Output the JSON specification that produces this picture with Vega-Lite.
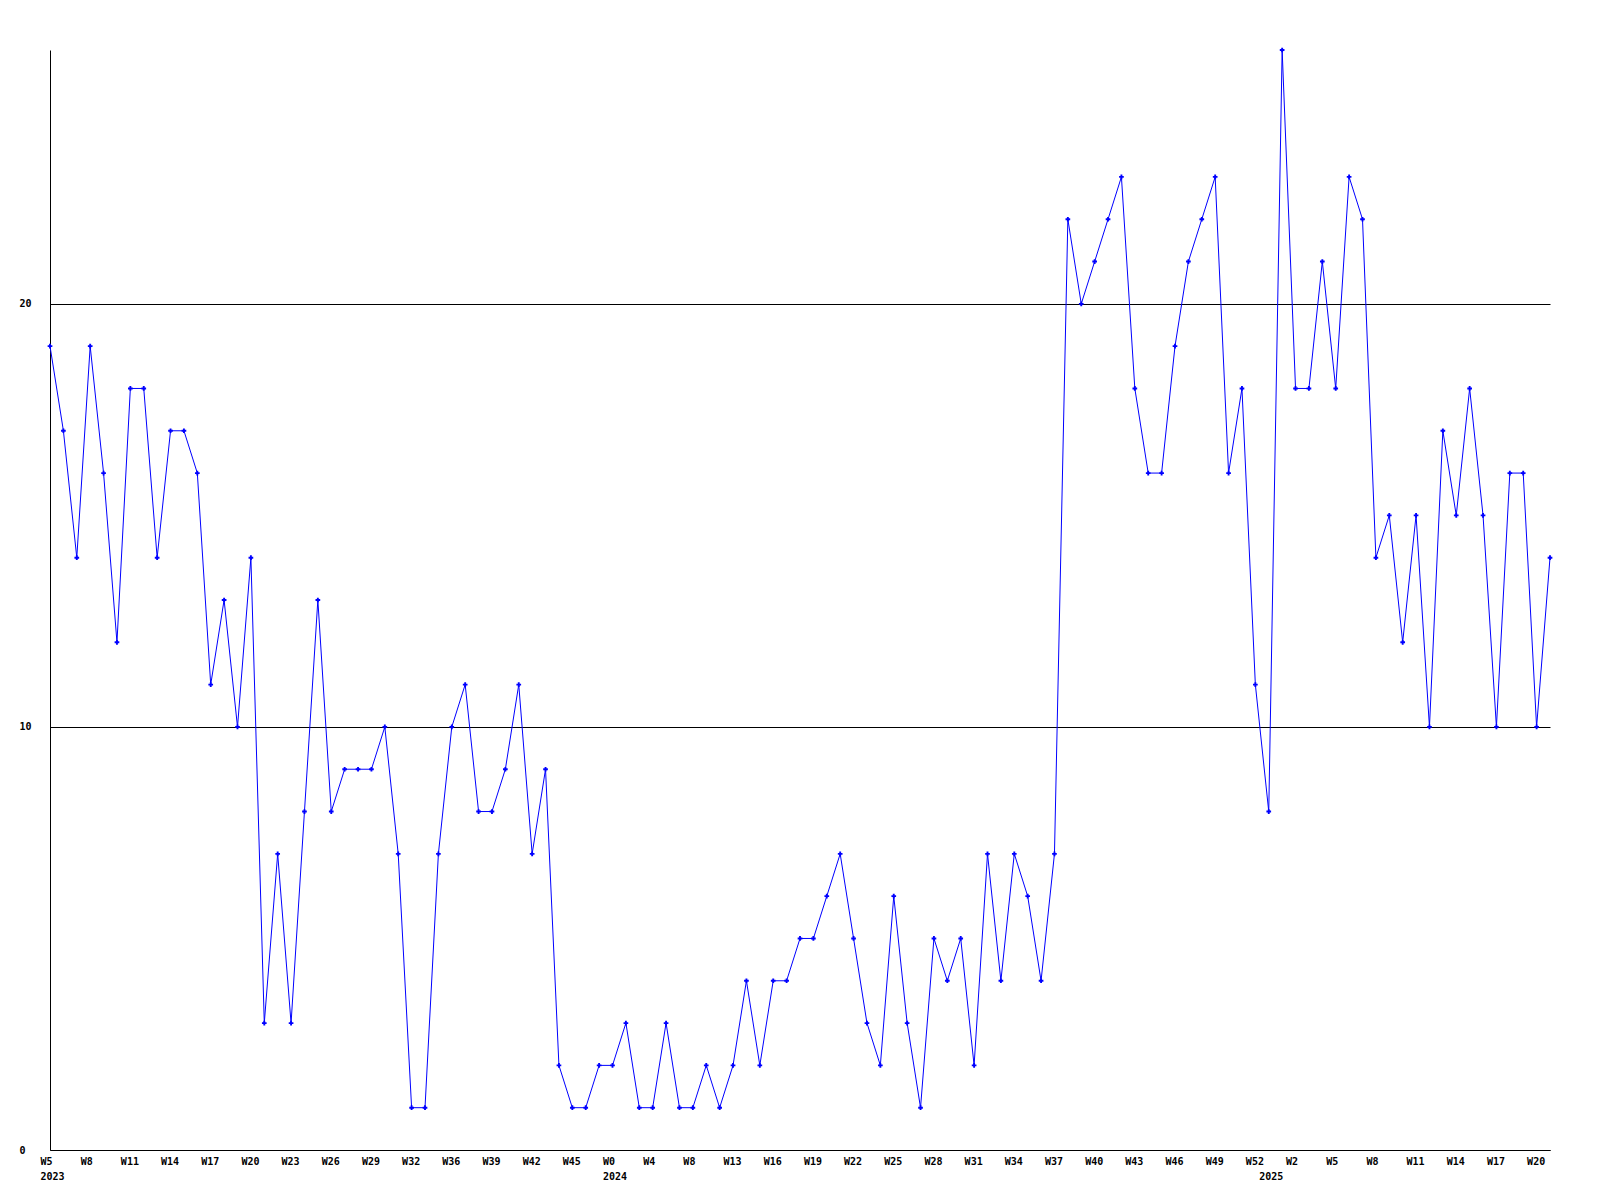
{
  "$schema": "https://vega.github.io/schema/vega-lite/v6.json",
  "width": 1500,
  "height": 1100,
  "autosize": {"type": "none"},
  "padding": {"left": 50, "top": 50, "right": 50, "bottom": 50},
  "background": "white",
  "config": {"view": {"stroke": null}, "axis": {"labelFont": "DejaVu Sans Mono", "labelFontWeight": "bold", "labelFontSize": 10, "labelColor": "black"}},
  "data": {"values": [
    {"i":0,"v":19},{"i":1,"v":17},{"i":2,"v":14},{"i":3,"v":19},{"i":4,"v":16},{"i":5,"v":12},{"i":6,"v":18},{"i":7,"v":18},{"i":8,"v":14},{"i":9,"v":17},
    {"i":10,"v":17},{"i":11,"v":16},{"i":12,"v":11},{"i":13,"v":13},{"i":14,"v":10},{"i":15,"v":14},{"i":16,"v":3},{"i":17,"v":7},{"i":18,"v":3},{"i":19,"v":8},
    {"i":20,"v":13},{"i":21,"v":8},{"i":22,"v":9},{"i":23,"v":9},{"i":24,"v":9},{"i":25,"v":10},{"i":26,"v":7},{"i":27,"v":1},{"i":28,"v":1},{"i":29,"v":7},
    {"i":30,"v":10},{"i":31,"v":11},{"i":32,"v":8},{"i":33,"v":8},{"i":34,"v":9},{"i":35,"v":11},{"i":36,"v":7},{"i":37,"v":9},{"i":38,"v":2},{"i":39,"v":1},
    {"i":40,"v":1},{"i":41,"v":2},{"i":42,"v":2},{"i":43,"v":3},{"i":44,"v":1},{"i":45,"v":1},{"i":46,"v":3},{"i":47,"v":1},{"i":48,"v":1},{"i":49,"v":2},
    {"i":50,"v":1},{"i":51,"v":2},{"i":52,"v":4},{"i":53,"v":2},{"i":54,"v":4},{"i":55,"v":4},{"i":56,"v":5},{"i":57,"v":5},{"i":58,"v":6},{"i":59,"v":7},
    {"i":60,"v":5},{"i":61,"v":3},{"i":62,"v":2},{"i":63,"v":6},{"i":64,"v":3},{"i":65,"v":1},{"i":66,"v":5},{"i":67,"v":4},{"i":68,"v":5},{"i":69,"v":2},
    {"i":70,"v":7},{"i":71,"v":4},{"i":72,"v":7},{"i":73,"v":6},{"i":74,"v":4},{"i":75,"v":7},{"i":76,"v":22},{"i":77,"v":20},{"i":78,"v":21},{"i":79,"v":22},
    {"i":80,"v":23},{"i":81,"v":18},{"i":82,"v":16},{"i":83,"v":16},{"i":84,"v":19},{"i":85,"v":21},{"i":86,"v":22},{"i":87,"v":23},{"i":88,"v":16},{"i":89,"v":18},
    {"i":90,"v":11},{"i":91,"v":8},{"i":92,"v":26},{"i":93,"v":18},{"i":94,"v":18},{"i":95,"v":21},{"i":96,"v":18},{"i":97,"v":23},{"i":98,"v":22},{"i":99,"v":14},
    {"i":100,"v":15},{"i":101,"v":12},{"i":102,"v":15},{"i":103,"v":10},{"i":104,"v":17},{"i":105,"v":15},{"i":106,"v":18},{"i":107,"v":15},{"i":108,"v":10},{"i":109,"v":16},
    {"i":110,"v":16},{"i":111,"v":10},{"i":112,"v":14}
  ]},
  "encoding": {
    "x": {"field": "i", "type": "quantitative", "scale": {"domain": [0, 112], "nice": false, "zero": false},
      "axis": {"title": null, "grid": false, "ticks": false, "tickSize": 0, "domainColor": "black", "domainWidth": 1,
        "values": [0,3,6,9,12,15,18,21,24,27,30,33,36,39,42,45,48,51,54,57,60,63,66,69,72,75,78,81,84,87,90,91,93,96,99,102,105,108,111],
        "labelAlign": "left", "labelOffset": -10, "labelPadding": 6, "labelBaseline": "top", "labelLineHeight": 15, "labelOverlap": false, "labelFlush": false,
        "labelExpr": "datum.value == 0 ? ['W5','2023'] : datum.value == 42 ? ['W0','2024'] : datum.value == 91 ? [' ','2025'] : ['W5','W8','W11','W14','W17','W20','W23','W26','W29','W32','W36','W39','W42','W45','W0','W4','W8','W13','W16','W19','W22','W25','W28','W31','W34','W37','W40','W43','W46','W49','W52','W2','W5','W8','W11','W14','W17','W20'][datum.value/3]"}},
    "y": {"field": "v", "type": "quantitative", "scale": {"domain": [0, 26], "nice": false},
      "axis": {"title": null, "values": [0, 10, 20], "grid": true, "gridColor": "black", "gridOpacity": 1, "gridWidth": 1,
        "ticks": false, "tickSize": 0, "domainColor": "black", "labelAlign": "left", "labelPadding": 31, "labelBaseline": "middle"}}
  },
  "layer": [
    {"mark": {"type": "line", "color": "#0000ff", "strokeWidth": 1}},
    {"mark": {"type": "point", "shape": "cross", "size": 22, "filled": true, "color": "#0000ff", "opacity": 1}}
  ]
}
